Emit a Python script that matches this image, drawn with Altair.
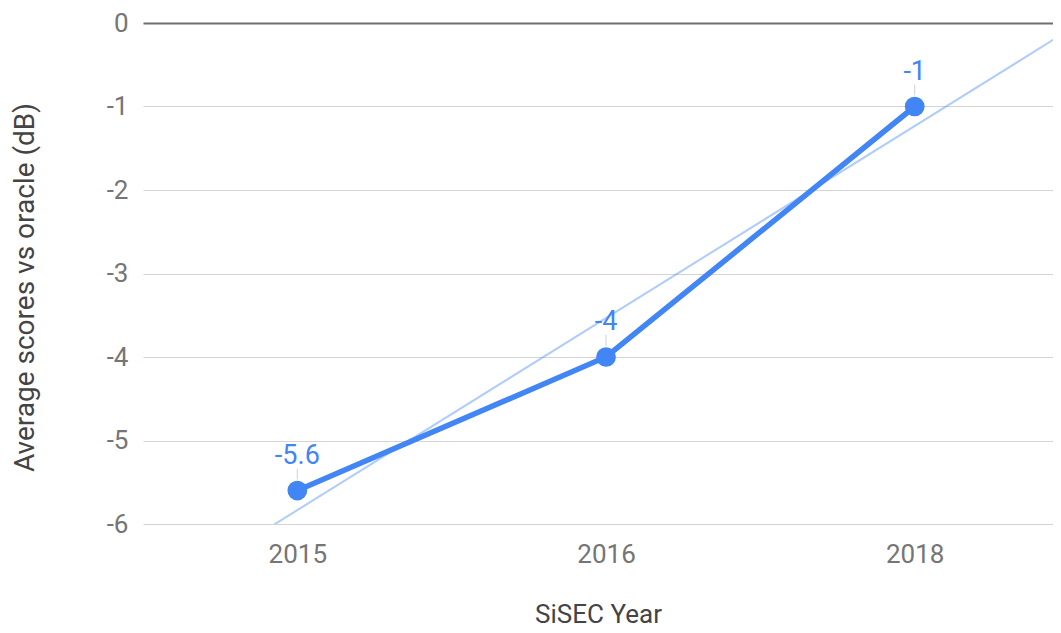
import json
import altair as alt
import pandas as pd

# ---- data ----
years = ["2015", "2016", "2018"]
scores = [-5.6, -4.0, -1.0]
score_labels = ["-5.6", "-4", "-1"]
y_ticks = [0, -1, -2, -3, -4, -5, -6]

df = pd.DataFrame({
    "idx": list(range(len(years))),
    "year": years,
    "score": scores,
    "label": score_labels,
})

BLUE = "#4285F4"
FONT = "Roboto"

# plot area: 910 px shows categories spaced ~308.7 px apart, the last band cut at the right edge
X_MAX = 2.448

x_enc = alt.X(
    "idx:Q",
    scale=alt.Scale(domain=[-0.5, X_MAX], nice=False, zero=False),
    axis=alt.Axis(
        values=list(range(len(years))),
        labelExpr=f"{json.dumps(years)}[datum.value]",
        title="SiSEC Year",
        grid=False,
        domain=False,
        ticks=False,
        tickSize=0,
        labelPadding=38,
        labelBaseline="alphabetic",
        labelFlush=False,
        labelOverlap=False,
        titleY=98,
        titleBaseline="alphabetic",
    ),
)

y_enc = alt.Y(
    "score:Q",
    scale=alt.Scale(domain=[-6, 0], nice=False, zero=False),
    axis=alt.Axis(
        values=y_ticks,
        labelExpr="'' + datum.value",
        title="Average scores vs oracle (dB)",
        titleFontSize=28,
        domain=False,
        ticks=False,
        tickSize=0,
        labelPadding=15,
        gridColor={"condition": {"test": "datum.value === 0", "value": "#6f6f6f"}, "value": "#d4d4d4"},
        gridWidth={"condition": {"test": "datum.value === 0", "value": 2}, "value": 1.2},
        titleX=-118,
        titleY=264,
        titleAngle=270,
        titleAlign="center",
        titleBaseline="middle",
    ),
)

base = alt.Chart(df)

trend = (
    base.transform_regression("idx", "score", extent=[-0.5, len(years) - 0.5])
    .mark_line(color=BLUE, opacity=0.42, strokeWidth=2, clip=True)
    .encode(x=x_enc, y=y_enc)
)

line = base.mark_line(color=BLUE, strokeWidth=5.5).encode(x=x_enc, y=y_enc)

leader = base.mark_rule(color="#d0d0d0", strokeWidth=1, yOffset=-11, y2Offset=-22).encode(
    x=x_enc, y=y_enc, y2=alt.Y2("score:Q")
)

points = base.mark_circle(color=BLUE, size=390, opacity=1).encode(x=x_enc, y=y_enc)

text = base.mark_text(
    color=BLUE, fontSize=27, font=FONT, baseline="alphabetic", align="center", dy=-27
).encode(x=x_enc, y=y_enc, text="label:N")

chart = (
    alt.layer(trend, line, leader, points, text)
    .properties(
        width=910,
        height=501,
        padding={"left": 135, "top": 15, "right": 0, "bottom": 104},
        autosize=alt.AutoSizeParams(type="none"),
    )
    .configure_view(stroke=None)
    .configure_axis(
        labelFont=FONT,
        labelFontSize=26,
        labelColor="#757575",
        titleFont=FONT,
        titleFontSize=26,
        titleColor="#444444",
        titleFontWeight="normal",
    )
)

chart.save("out.html", embed_options={"renderer": "svg", "actions": False})
